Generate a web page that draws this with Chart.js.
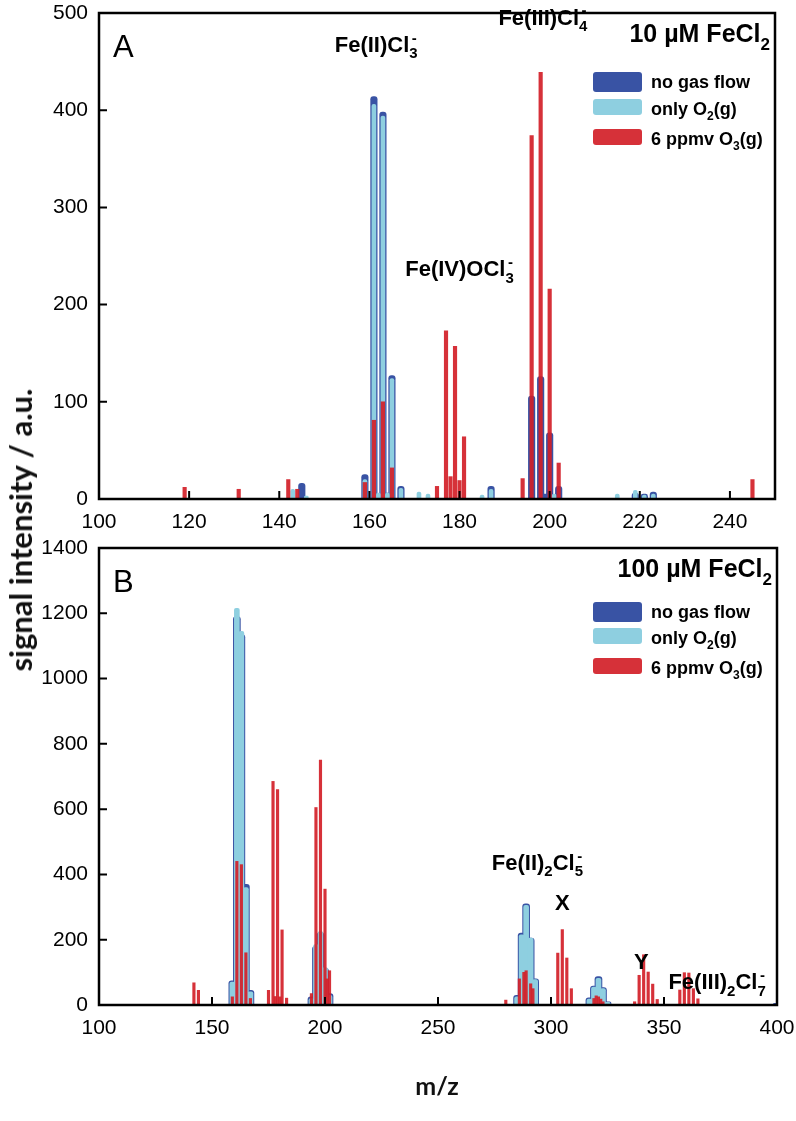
<!DOCTYPE html>
<html>
<head>
<meta charset="utf-8">
<script src="https://cdn.jsdelivr.net/npm/chart.js@4.4.1/dist/chart.umd.min.js"></script>
<style>
  body { margin: 0; background: #fff; width: 796px; height: 1121px; position: relative; overflow: hidden; }
  canvas { position: absolute; left: 0; }
  #chartA { top: 0; }
  #chartB { top: 535px; }
  .ytitle {
    position: absolute; left: 20px; top: 530px; white-space: nowrap;
    transform: translate(-50%, -50%) rotate(-90deg);
    font: bold 31px Lato, "Open Sans", sans-serif; color: #111;
  }
  .xtitle {
    position: absolute; left: 437px; top: 1085px; transform: translate(-50%, -50%);
    font: bold 25px Lato, "Open Sans", sans-serif; color: #111;
  }
</style>
</head>
<body>
<canvas id="chartA" width="796" height="535"></canvas>
<canvas id="chartB" width="796" height="586"></canvas>
<div class="ytitle">signal intensity / a.u.</div>
<div class="xtitle">m/z</div>

<script>
// ---- panel A : 10 µM FeCl2 ----
const mzA_noGas = [145, 159, 161, 163, 164, 165, 167, 187, 196, 198, 199, 200, 202, 219, 221, 223];
const valA_noGas = [16, 25, 414, 398, 6, 127, 13, 13, 106, 126, 5, 68, 13, 6, 5, 7];
const mzA_o2 = [143, 146, 159, 161, 162, 163, 164, 165, 167, 171, 173, 185, 187, 201, 215, 219, 221, 223];
const valA_o2 = [10, 3, 20, 406, 6, 394, 6, 124, 11, 7, 5, 4, 10, 5, 5, 9, 4, 5];
const mzA_o3 = [119, 131, 142, 144, 159, 161, 163, 165, 175, 177, 178, 179, 180, 181, 194, 196, 198, 200, 202, 245];
const valA_o3 = [12, 10, 20, 10, 17, 81, 100, 32, 13, 173, 23, 157, 19, 64, 21, 374, 439, 216, 37, 20];

// ---- panel B : 100 µM FeCl2 ----
const mzB_noGas = [159, 161, 163, 165, 167, 194, 196, 198, 200, 202, 285, 287, 289, 291, 293, 317, 319, 321, 323, 325, 400];
const valB_noGas = [74, 1190, 1135, 370, 45, 25, 180, 222, 112, 35, 30, 220, 310, 205, 80, 22, 58, 87, 53, 10, 5];
const mzB_o2 = [159, 161, 163, 165, 167, 194, 196, 198, 200, 202, 285, 287, 289, 291, 293, 317, 319, 321, 323, 325];
const valB_o2 = [70, 1215, 1145, 360, 40, 20, 185, 225, 115, 30, 25, 215, 305, 205, 78, 18, 55, 82, 50, 8];
const mzB_o3 = [142, 144, 159, 161, 163, 165, 167, 175, 177, 178, 179, 180, 181, 183, 194, 196, 198, 200, 201, 202,
                280, 286, 288, 289, 291, 292, 303, 305, 307, 309, 319, 320, 321, 322, 323,
                337, 339, 341, 343, 345, 347, 357, 359, 361, 363, 365];
const valB_o3 = [68, 45, 25, 440, 430, 160, 20, 45, 685, 26, 660, 25, 230, 21, 35, 605, 750, 355, 80, 105,
                 15, 80, 100, 105, 65, 50, 159, 231, 144, 50, 20, 28, 25, 18, 10,
                 10, 91, 154, 101, 64, 17, 46, 99, 98, 50, 19];

const seriesNames = ['no gas flow', 'only O2(g)', '6 ppmv O3(g)'];
const BLUE = '#3953a4', CYAN = '#8ecfe0', RED = 'rgba(210, 32, 40, 0.92)';
const FONT = '"Liberation Sans", Arial, sans-serif';

// rich-text labels: [text, ''|'sub'|'sup']
const legendParts = [
  [['no gas flow', '']],
  [['only O', ''], ['2', 'sub'], ['(g)', '']],
  [['6 ppmv O', ''], ['3', 'sub'], ['(g)', '']]
];
const annotationsA = [
  { parts: [['Fe(II)Cl', ''], ['3', 'sub'], ['-', 'sup']], mz: 161.5, y: 460 },
  { parts: [['Fe(III)Cl', ''], ['4', 'sub'], ['-', 'sup']], mz: 198.5, y: 488 },
  { parts: [['Fe(IV)OCl', ''], ['3', 'sub'], ['-', 'sup']], mz: 180, y: 229 }
];
const annotationsB = [
  { parts: [['Fe(II)', ''], ['2', 'sub'], ['Cl', ''], ['5', 'sub'], ['-', 'sup']], mz: 294, y: 414 },
  { parts: [['X', '']], mz: 305, y: 291 },
  { parts: [['Y', '']], mz: 340, y: 110 },
  { parts: [['Fe(III)', ''], ['2', 'sub'], ['Cl', ''], ['7', 'sub'], ['-', 'sup']], mz: 373.5, y: 49 }
];

const toXY = (xs, ys) => xs.map((x, i) => ({ x, y: ys[i] }));

function drawRich(ctx, parts, x, y, size, align) {
  const small = Math.round(size * 0.66);
  const fontFor = k => `bold ${k ? small : size}px ${FONT}`;
  const stacked = i => parts[i][1] === 'sup' && i > 0 && parts[i - 1][1] === 'sub';
  let w = 0, lastW = 0;
  parts.forEach(([t, k], i) => {
    ctx.font = fontFor(k);
    const tw = ctx.measureText(t).width;
    w += stacked(i) ? Math.max(0, tw - lastW * 0.7) : tw;
    lastW = tw;
  });
  let cx = align === 'right' ? x - w : align === 'center' ? x - w / 2 : x;
  lastW = 0;
  ctx.textAlign = 'left';
  ctx.textBaseline = 'alphabetic';
  parts.forEach(([t, k], i) => {
    ctx.font = fontFor(k);
    const tw = ctx.measureText(t).width;
    if (stacked(i)) cx -= lastW * 0.7;
    const dy = k === 'sub' ? size * 0.3 : k === 'sup' ? -size * 0.42 : 0;
    ctx.fillText(t, cx, y + dy);
    cx += tw;
    lastW = tw;
  });
}

function roundRect(ctx, x, y, w, h, r) {
  ctx.beginPath();
  ctx.moveTo(x + r, y);
  ctx.arcTo(x + w, y, x + w, y + h, r);
  ctx.arcTo(x + w, y + h, x, y + h, r);
  ctx.arcTo(x, y + h, x, y, r);
  ctx.arcTo(x, y, x + w, y, r);
  ctx.closePath();
}

const framePlugin = {
  id: 'frame',
  afterDraw(chart, args, opts) {
    const { ctx, chartArea: a, scales: { x, y } } = chart;
    ctx.save();
    ctx.strokeStyle = '#000';
    // inward tick marks
    ctx.lineWidth = 2;
    ctx.beginPath();
    x.ticks.forEach(t => {
      const px = x.getPixelForValue(t.value);
      ctx.moveTo(px, a.bottom); ctx.lineTo(px, a.bottom - 8);
    });
    y.ticks.forEach(t => {
      const py = y.getPixelForValue(t.value);
      ctx.moveTo(a.left, py); ctx.lineTo(a.left + 8, py);
    });
    ctx.stroke();
    // box
    ctx.lineWidth = 2.5;
    ctx.strokeRect(a.left, a.top, a.right - a.left, a.bottom - a.top);

    ctx.fillStyle = '#000';
    // panel letter
    ctx.font = `31px ${FONT}`;
    ctx.textAlign = 'left';
    ctx.textBaseline = 'alphabetic';
    ctx.fillText(opts.letter, a.left + 14, a.top + 44);
    // concentration title
    drawRich(ctx, opts.title, a.right - 5, a.top + 29, 25, 'right');
    // legend
    const colors = [BLUE, CYAN, RED];
    opts.legendRows.forEach((ry, i) => {
      ctx.fillStyle = colors[i];
      roundRect(ctx, 593, a.top + ry - 10, 49, i === 0 ? 20 : 16, 3);
      ctx.fill();
      ctx.fillStyle = '#000';
      drawRich(ctx, legendParts[i], 651, a.top + ry + 6, 18, 'left');
    });
    // peak annotations
    opts.notes.forEach(n => {
      drawRich(ctx, n.parts, x.getPixelForValue(n.mz), y.getPixelForValue(n.y), 22, 'center');
    });
    ctx.restore();
  }
};

function makeChart(id, d) {
  const bar = (label, data, color, w, r, order) => ({
    label, data, backgroundColor: color, barThickness: w, order,
    borderRadius: r ? { topLeft: r, topRight: r, bottomLeft: 0, bottomRight: 0 } : 0,
    borderSkipped: false, grouped: false
  });
  return new Chart(document.getElementById(id), {
    type: 'bar',
    data: {
      datasets: [
        bar(seriesNames[0], d.noGas, BLUE, d.w[0], 3, 3),
        bar(seriesNames[1], d.o2, CYAN, d.w[1], 2, 2),
        bar(seriesNames[2], d.o3, RED, d.w[2], 0, 1)
      ]
    },
    options: {
      responsive: false,
      animation: false,
      layout: { padding: { top: 13, right: d.padRight, left: 0, bottom: 0 } },
      plugins: {
        legend: { display: false },
        tooltip: { enabled: false },
        frame: { letter: d.letter, title: d.title, legendRows: d.legendRows, notes: d.notes }
      },
      scales: {
        x: {
          type: 'linear', min: d.xMin, max: d.xMax, offset: false,
          grid: { display: false, drawTicks: false, offset: false }, border: { display: false },
          ticks: { stepSize: d.xStep, includeBounds: false, autoSkip: false, maxRotation: 0, padding: 11,
                   color: '#000', font: { family: FONT, size: 21 }, callback: v => String(v) },
          afterBuildTicks: s => { s.ticks = s.ticks.filter(t => (t.value - d.xMin) % d.xStep === 0); },
          afterFit: s => { s.height = d.xAxisH; s.paddingLeft = 0; s.paddingRight = 0; }
        },
        y: {
          min: 0, max: d.yMax,
          grid: { display: false, drawTicks: false }, border: { display: false },
          ticks: { stepSize: d.yStep, padding: 11, color: '#000', font: { family: FONT, size: 21 },
                   callback: v => String(v) },
          afterFit: s => { s.width = 99; s.paddingTop = 0; s.paddingBottom = 0; }
        }
      }
    },
    plugins: [framePlugin]
  });
}

makeChart('chartA', {
  noGas: toXY(mzA_noGas, valA_noGas), o2: toXY(mzA_o2, valA_o2), o3: toXY(mzA_o3, valA_o3),
  w: [6.5, 4, 3.5], xMin: 100, xMax: 250, xStep: 20, yMax: 500, yStep: 100,
  xAxisH: 36, padRight: 21, letter: 'A',
  title: [['10 \u00b5M FeCl', ''], ['2', 'sub']],
  legendRows: [69, 96, 126], notes: annotationsA
});

makeChart('chartB', {
  noGas: toXY(mzB_noGas, valB_noGas), o2: toXY(mzB_o2, valB_o2), o3: toXY(mzB_o3, valB_o3),
  w: [7, 5, 2.5], xMin: 100, xMax: 400, xStep: 50, yMax: 1400, yStep: 200,
  xAxisH: 116, padRight: 19, letter: 'B',
  title: [['100 \u00b5M FeCl', ''], ['2', 'sub']],
  legendRows: [64, 90, 120], notes: annotationsB
});
</script>
</body>
</html>
